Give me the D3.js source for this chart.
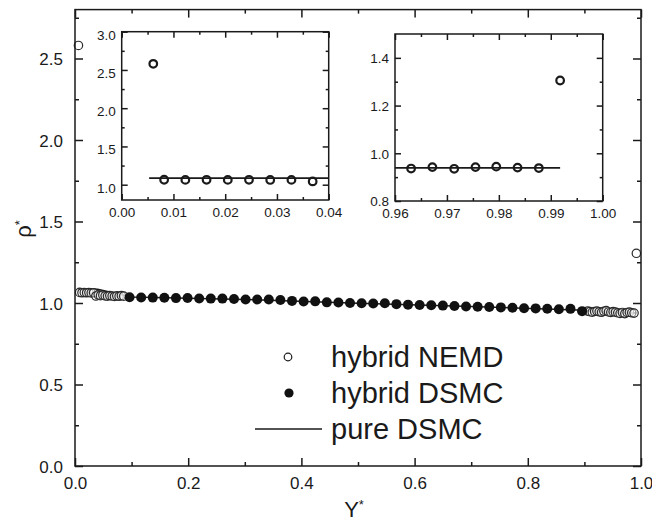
<!DOCTYPE html>
<html><head><meta charset="utf-8">
<script src="https://cdn.jsdelivr.net/npm/d3@7"></script>
<style>
html,body{margin:0;padding:0;background:#fff;}
svg{display:block;}
text{font-family:"Liberation Sans",Arial,sans-serif;fill:#1a1a1a;}
</style></head>
<body>
<svg id="chart" width="652" height="524"></svg>
<script>
// ---------- data ----------
const nemdX = [0.0061, 0.0082, 0.0123, 0.0164, 0.0205, 0.0246, 0.0287, 0.0328, 0.0369, 0.0410, 0.0451,
  0.0492, 0.0533, 0.0574, 0.0615, 0.0656, 0.0697, 0.0738, 0.0779, 0.0820, 0.0861,
  0.9057, 0.9098, 0.9139, 0.9180, 0.9221, 0.9262, 0.9303, 0.9344, 0.9385, 0.9426, 0.9467,
  0.9508, 0.9549, 0.9590, 0.9631, 0.9672, 0.9714, 0.9755, 0.9795, 0.9836, 0.9877, 0.9918];
const nemdY = [2.58, 1.065, 1.063, 1.064, 1.063, 1.064, 1.062, 1.063, 1.043, 1.050, 1.045,
  1.048, 1.044, 1.042, 1.046, 1.043, 1.040, 1.044, 1.041, 1.045, 1.042,
  0.950, 0.947, 0.944, 0.948, 0.951, 0.946, 0.943, 0.949, 0.953, 0.945, 0.942,
  0.947, 0.944, 0.940, 0.936, 0.942, 0.935, 0.942, 0.944, 0.940, 0.938, 1.305];
const dsmcX = [0.0964, 0.1169, 0.1374, 0.1579, 0.1784, 0.1989, 0.2194, 0.2399, 0.2604, 0.2809,
  0.3014, 0.3219, 0.3424, 0.3629, 0.3834, 0.4039, 0.4244, 0.4449, 0.4654, 0.4859,
  0.5064, 0.5269, 0.5474, 0.5679, 0.5884, 0.6089, 0.6294, 0.6499, 0.6704, 0.6909,
  0.7114, 0.7319, 0.7524, 0.7729, 0.7934, 0.8139, 0.8344, 0.8549, 0.8754, 0.8959];
const dsmcY = [1.035, 1.034, 1.033, 1.032, 1.030, 1.031, 1.028, 1.027, 1.027, 1.024,
  1.022, 1.021, 1.022, 1.018, 1.013, 1.009, 1.010, 1.004, 1.003, 1.000,
  0.998, 0.997, 0.999, 0.993, 0.990, 0.988, 0.986, 0.984, 0.982, 0.979,
  0.977, 0.975, 0.973, 0.971, 0.968, 0.967, 0.965, 0.962, 0.964, 0.950];
const pureX = [0.0053, 0.040, 0.100, 0.300, 0.500, 0.700, 0.900, 0.960, 0.9918];
const pureY = [1.087, 1.085, 1.037, 1.022, 0.999, 0.978, 0.955, 0.940, 0.939];

const mainXTicks = [0, 0.2, 0.4, 0.6, 0.8, 1.0];
const mainXMinor = [0.1, 0.3, 0.5, 0.7, 0.9];
const mainYTicks = [0, 0.5, 1.0, 1.5, 2.0, 2.5];
const mainYMinor = [0.25, 0.75, 1.25, 1.75, 2.25, 2.75];
const in1XTicks = [0, 0.01, 0.02, 0.03, 0.04];
const in1XMinor = [0.005, 0.015, 0.025, 0.035];
const in1YTicks = [1.0, 1.5, 2.0, 2.5, 3.0];
const in1YMinor = [1.25, 1.75, 2.25, 2.75];
const in2XTicks = [0.96, 0.97, 0.98, 0.99, 1.00];
const in2XMinor = [0.965, 0.975, 0.985, 0.995];
const in2YTicks = [0.8, 1.0, 1.2, 1.4];
const in2YMinor = [0.9, 1.1, 1.3];
const legendLabels = ["hybrid NEMD", "hybrid DSMC", "pure DSMC"];

const nemd = nemdX.map((x, i) => ({x, y: nemdY[i]}));
const dsmc = dsmcX.map((x, i) => ({x, y: dsmcY[i]}));
const pure = pureX.map((x, i) => ({x, y: pureY[i]}));

// ---------- drawing ----------
const svg = d3.select("#chart");
const ink = "#1a1a1a";

function frameAxes(g, x, y, o) {
  const [x0, x1] = x.range(), [y0, y1] = y.range();
  const W = x1 - x0, H = y0 - y1;
  const fmtX = d3.format(o.fx), fmtY = d3.format(o.fy);
  g.append("g").attr("transform", `translate(0,${y0})`)
    .call(d3.axisBottom(x).tickValues(o.xt).tickSize(-o.maj).tickSizeOuter(0).tickPadding(o.padX).tickFormat(fmtX))
    .call(a => { a.select(".domain").remove(); a.selectAll("text").style("font-size", o.fs + "px").attr("fill", ink); });
  g.append("g").attr("transform", `translate(0,${y0})`)
    .call(d3.axisBottom(x).tickValues(o.xm).tickSize(-o.min).tickSizeOuter(0).tickFormat(""))
    .call(a => a.select(".domain").remove());
  g.append("g").attr("transform", `translate(0,${y1})`)
    .call(d3.axisTop(x).tickValues(o.xt).tickSize(-o.maj).tickSizeOuter(0).tickFormat(""))
    .call(a => a.select(".domain").remove());
  g.append("g").attr("transform", `translate(0,${y1})`)
    .call(d3.axisTop(x).tickValues(o.xm).tickSize(-o.min).tickSizeOuter(0).tickFormat(""))
    .call(a => a.select(".domain").remove());
  g.append("g").attr("transform", `translate(${x0},0)`)
    .call(d3.axisLeft(y).tickValues(o.yt).tickSize(-o.maj).tickSizeOuter(0).tickPadding(o.padY).tickFormat(fmtY))
    .call(a => { a.select(".domain").remove(); a.selectAll("text").style("font-size", o.fs + "px").attr("fill", ink).attr("dy", o.dyY); });
  g.append("g").attr("transform", `translate(${x0},0)`)
    .call(d3.axisLeft(y).tickValues(o.ym).tickSize(-o.min).tickSizeOuter(0).tickFormat(""))
    .call(a => a.select(".domain").remove());
  g.append("g").attr("transform", `translate(${x1},0)`)
    .call(d3.axisRight(y).tickValues(o.yt).tickSize(-o.maj).tickSizeOuter(0).tickFormat(""))
    .call(a => a.select(".domain").remove());
  g.append("g").attr("transform", `translate(${x1},0)`)
    .call(d3.axisRight(y).tickValues(o.ym).tickSize(-o.min).tickSizeOuter(0).tickFormat(""))
    .call(a => a.select(".domain").remove());
  g.selectAll(".tick line").attr("stroke", ink).attr("stroke-width", o.sw);
  g.append("rect").attr("x", x0).attr("y", y1).attr("width", W).attr("height", H)
    .attr("fill", "none").attr("stroke", ink).attr("stroke-width", o.sw);
}

// main chart
const x = d3.scaleLinear().domain([0, 1]).range([75, 641]);
const y = d3.scaleLinear().domain([0, 2.8]).range([466, 9.6]);
const main = svg.append("g");

const line = d3.line().x(d => x(d.x)).y(d => y(d.y));
main.append("path").datum(pure).attr("d", line).attr("fill", "none").attr("stroke", ink).attr("stroke-width", 1.5);
main.append("g").selectAll("circle").data(nemd).join("circle")
  .attr("cx", d => x(d.x)).attr("cy", d => y(d.y)).attr("r", 4.2)
  .attr("fill", "#fff").attr("fill-opacity", 0.45).attr("stroke", "#2a2a2a").attr("stroke-width", 1.2);
main.append("g").selectAll("circle").data(dsmc).join("circle")
  .attr("cx", d => x(d.x)).attr("cy", d => y(d.y)).attr("r", 5).attr("fill", "#111");

frameAxes(main, x, y, {xt: mainXTicks, xm: mainXMinor, yt: mainYTicks, ym: mainYMinor,
  fx: ".1f", fy: ".1f", maj: 8, min: 4, fs: 17, padX: 11, padY: 12, dyY: "0.36em", sw: 1.5});

// axis titles
const yt = main.append("text").attr("transform", "translate(31,229) rotate(-90)")
  .attr("text-anchor", "middle").style("font-size", "22px");
yt.append("tspan").text("ρ");
yt.append("tspan").attr("dy", "-0.55em").style("font-size", "13px").text("*");
const xt = main.append("text").attr("x", 354).attr("y", 517)
  .attr("text-anchor", "middle").style("font-size", "22px");
xt.append("tspan").text("Y");
xt.append("tspan").attr("dy", "-0.6em").style("font-size", "13px").text("*");

// legend
const leg = main.append("g");
const lgY = [367, 403, 439];
leg.append("circle").attr("cx", 288).attr("cy", lgY[0] - 10).attr("r", 3.8)
  .attr("fill", "#fff").attr("stroke", ink).attr("stroke-width", 1.2);
leg.append("circle").attr("cx", 289).attr("cy", lgY[1] - 10).attr("r", 4.6).attr("fill", "#111");
leg.append("line").attr("x1", 255).attr("x2", 322).attr("y1", lgY[2] - 10).attr("y2", lgY[2] - 10)
  .attr("stroke", ink).attr("stroke-width", 1.5);
leg.selectAll("text.lg").data(legendLabels).join("text").attr("class", "lg")
  .attr("x", 331).attr("y", (d, i) => lgY[i]).style("font-size", "29px").text(d => d);

// inset helper
function inset(xr, yr, xd, yd, o, pts, purePts) {
  const xs = d3.scaleLinear().domain(xd).range(xr);
  const ys = d3.scaleLinear().domain(yd).range(yr);
  const g = svg.append("g");
  g.append("rect").attr("x", xr[0]).attr("y", yr[1]).attr("width", xr[1] - xr[0]).attr("height", yr[0] - yr[1]).attr("fill", "#fff");
  const ln = d3.line().x(d => xs(d.x)).y(d => ys(d.y));
  g.append("path").datum(purePts).attr("d", ln).attr("fill", "none").attr("stroke", ink).attr("stroke-width", 1.8);
  g.append("g").selectAll("circle").data(pts).join("circle")
    .attr("cx", d => xs(d.x)).attr("cy", d => ys(d.y)).attr("r", 3.8)
    .attr("fill", "none").attr("stroke", ink).attr("stroke-width", 2.2);
  frameAxes(g, xs, ys, o);
}

const in1Pts = nemd.filter(d => d.x <= 0.04);
const in1Pure = [{x: pureX[0], y: pureY[0]}, {x: 0.04, y: pureY[0]}];
inset([121.7, 328.7], [200, 31.7], [0, 0.04], [0.8, 3.0],
  {xt: in1XTicks, xm: in1XMinor, yt: in1YTicks, ym: in1YMinor, fx: ".2f", fy: ".1f",
   maj: 6, min: 3, fs: 13.5, padX: 7, padY: 6, dyY: "0.55em", sw: 1.5}, in1Pts, in1Pure);

const in2Pts = nemd.filter(d => d.x >= 0.96);
const in2Pure = [{x: 0.96, y: pureY[8]}, {x: pureX[8], y: pureY[8]}];
inset([395, 602.7], [201, 34], [0.96, 1.0], [0.8, 1.5],
  {xt: in2XTicks, xm: in2XMinor, yt: in2YTicks, ym: in2YMinor, fx: ".2f", fy: ".1f",
   maj: 6, min: 3, fs: 13.5, padX: 7, padY: 6, dyY: "0.36em", sw: 1.5}, in2Pts, in2Pure);
</script>
</body></html>
